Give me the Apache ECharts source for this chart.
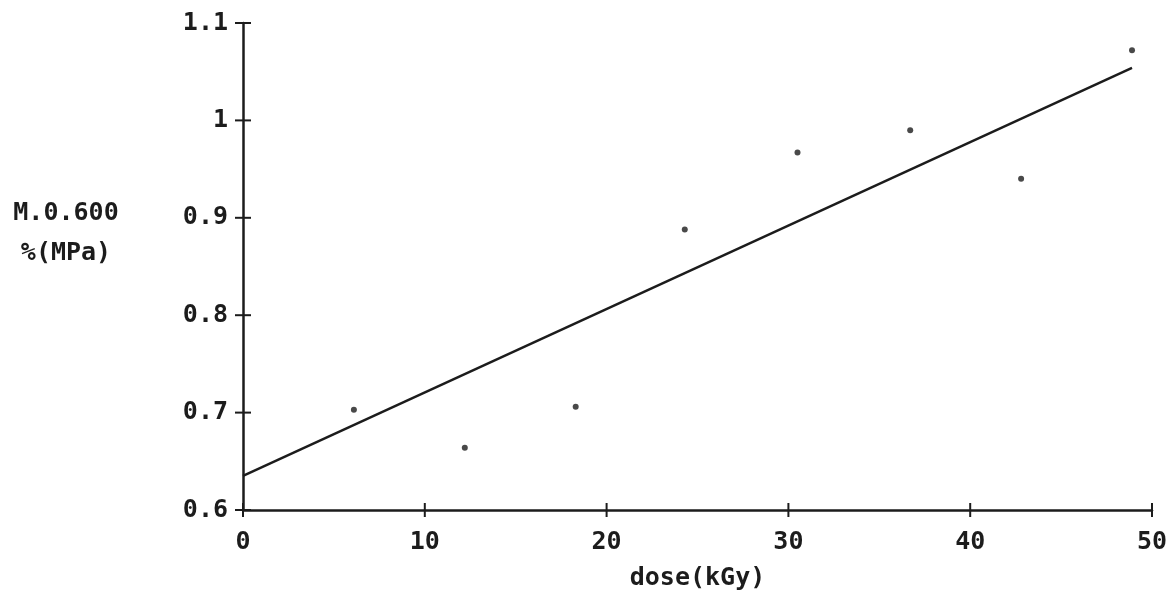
<!DOCTYPE html>
<html>
<head>
<meta charset="utf-8">
<script src="https://cdn.jsdelivr.net/npm/echarts@6/dist/echarts.min.js"></script>
<style>
  html, body { margin: 0; padding: 0; background: #ffffff; }
  #chart { width: 1174px; height: 606px; }
</style>
</head>
<body>
<div id="chart"></div>
<script>
// Data
var doses = [6.1, 12.2, 18.3, 24.3, 30.5, 36.7, 42.8, 48.9];
var modulus = [0.703, 0.664, 0.706, 0.888, 0.967, 0.990, 0.940, 1.072];
var fitX = [0, 48.9];
var fitY = [0.635, 1.054];
var xTicks = [0, 10, 20, 30, 40, 50];
var yTicks = [0.6, 0.7, 0.8, 0.9, 1, 1.1];
var xName = 'dose(kGy)';
var yNameLines = ['M.0.600', '%(MPa)'];

var ink = '#1c1c1c';
var font = 'DejaVu Sans Mono';

var points = doses.map(function (d, i) { return [d, modulus[i]]; });
var fit = fitX.map(function (d, i) { return [d, fitY[i]]; });
var xTickMarks = xTicks.map(function (v) { return [v, yTicks[0]]; });
var yTickMarks = yTicks.map(function (v) { return [xTicks[0], v]; });

function crossTick(horizontalAxis, half) {
  return function (params, api) {
    var p = api.coord([api.value(0), api.value(1)]);
    var shape = horizontalAxis
      ? { x1: p[0], y1: p[1] - half, x2: p[0], y2: p[1] + half }
      : { x1: p[0] - half, y1: p[1], x2: p[0] + half, y2: p[1] };
    return { type: 'line', shape: shape, style: { stroke: ink, lineWidth: 2 } };
  };
}

var chart = echarts.init(document.getElementById('chart'), null, { renderer: 'canvas' });
chart.setOption({
  backgroundColor: '#ffffff',
  animation: false,
  grid: { left: 243, right: 22, top: 23, bottom: 96, containLabel: false },
  xAxis: {
    type: 'value', position: 'bottom',
    min: xTicks[0], max: xTicks[xTicks.length - 1], interval: 10,
    splitLine: { show: false },
    axisLine: { show: true, lineStyle: { color: ink, width: 2.5 } },
    axisTick: { show: false },
    axisLabel: { show: true, color: ink, fontFamily: font, fontSize: 25, fontWeight: 'bold', margin: 20 },
    name: xName, nameLocation: 'middle', nameGap: 56,
    nameTextStyle: { color: ink, fontFamily: font, fontSize: 25, fontWeight: 'bold', verticalAlign: 'top' }
  },
  yAxis: {
    type: 'value', position: 'left',
    min: yTicks[0], max: yTicks[yTicks.length - 1], interval: 0.1,
    splitLine: { show: false },
    axisLine: { show: true, lineStyle: { color: ink, width: 2.5 } },
    axisTick: { show: false },
    axisLabel: {
      show: true, color: ink, fontFamily: font, fontSize: 25, fontWeight: 'bold', margin: 15,
      formatter: function (v) { return String(Math.round(v * 10) / 10); }
    },
    name: yNameLines.join('\n') + '\n{s| }', nameLocation: 'middle', nameRotate: 0, nameGap: 177,
    nameTextStyle: {
      color: ink, fontFamily: font, fontSize: 25, fontWeight: 'bold', lineHeight: 40,
      align: 'center', verticalAlign: 'middle',
      rich: { s: { fontSize: 2, lineHeight: 66 } }
    }
  },
  series: [
    {
      type: 'line', data: fit, showSymbol: false, symbol: 'none',
      lineStyle: { color: ink, width: 2.5 }, z: 3, silent: true
    },
    {
      type: 'scatter', data: points, symbol: 'circle', symbolSize: 6,
      itemStyle: { color: ink }, z: 4
    },
    {
      type: 'custom', data: xTickMarks, renderItem: crossTick(true, 7),
      clip: false, silent: true, z: 5
    },
    {
      type: 'custom', data: yTickMarks, renderItem: crossTick(false, 8),
      clip: false, silent: true, z: 5
    }
  ]
});
</script>
</body>
</html>
